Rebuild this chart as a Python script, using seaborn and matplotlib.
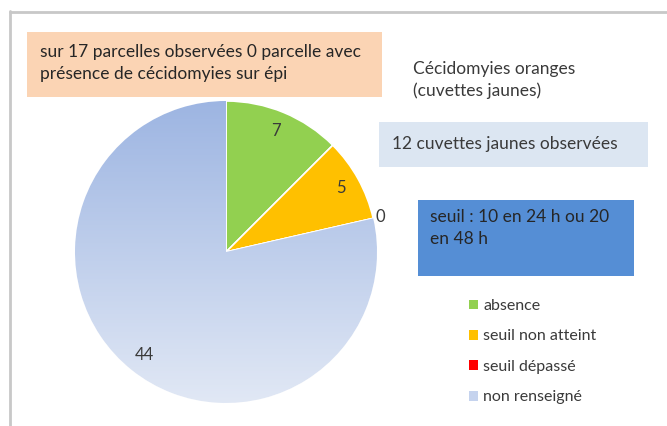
"""Pie chart: cécidomyies oranges (cuvettes jaunes)."""

import matplotlib

matplotlib.use("Agg")

import matplotlib.pyplot as plt
import numpy as np
import seaborn as sns
from matplotlib.colors import LinearSegmentedColormap
from matplotlib.lines import Line2D
from matplotlib.patches import Rectangle

# data
categories = ["absence", "seuil non atteint", "seuil dépassé", "non renseigné"]
counts = [7, 5, 0, 44]
slice_colors = ["#92d050", "#ffc000", "#ff0000", "#b4c7e7"]

title_lines = ["Cécidomyies oranges", "(cuvettes jaunes)"]
note_parcelles = "sur 17 parcelles observées 0 parcelle avec\nprésence de cécidomyies sur épi"
note_cuvettes = "12 cuvettes jaunes observées"
note_seuil = "seuil : 10 en 24 h ou 20\nen 48 h"

W, H = 667, 426
TEXT = "#3a3a3a"
FS = 12.5


def y(py):
    # pixel row (from top) -> data y
    return H - py


sns.set_theme(style="white")
plt.rcParams["font.family"] = ["Lato", "DejaVu Sans"]

fig = plt.figure(figsize=(W / 100, H / 100), dpi=100)
ax = fig.add_axes([0, 0, 1, 1])

cx, cy, r = 226, y(252), 151
wedges, _ = ax.pie(
    counts,
    colors=slice_colors,
    startangle=90,
    counterclock=False,
    center=(cx, cy),
    radius=r,
    frame=True,
    wedgeprops={"edgecolor": "white", "linewidth": 1.2},
)

# vertical gradient on the "non renseigné" slice
grad = LinearSegmentedColormap.from_list("blue_grad", ["#9db5e2", "#e1e8f5"])
img = ax.imshow(
    np.linspace(0, 1, 256).reshape(-1, 1),
    cmap=grad,
    extent=(cx - r, cx + r, cy - r, cy + r),
    origin="upper",
    aspect="auto",
    zorder=1.5,
)
img.set_clip_path(wedges[3])
wedges[3].set_zorder(1)

# value labels
for wedge, value in zip(wedges, counts):
    mid = np.deg2rad((wedge.theta1 + wedge.theta2) / 2)
    dist = r * (0.87 if value > 0 else 1.05)
    ax.text(
        cx + dist * np.cos(mid),
        cy + dist * np.sin(mid),
        str(value),
        ha="center",
        va="center",
        fontsize=12,
        color=TEXT,
        zorder=5,
    )

ax.set_xlim(0, W)
ax.set_ylim(0, H)
ax.set_aspect("equal")
ax.axis("off")

# text boxes
ax.add_patch(Rectangle((27, y(97)), 355, 65, facecolor="#fbd4b4", edgecolor="none", zorder=0.5))
ax.text(40, y(63), note_parcelles, fontsize=FS, color="#262626", va="center", linespacing=1.4)

ax.text(413, y(80), "\n".join(title_lines), fontsize=FS, color=TEXT, va="center", linespacing=1.4)

ax.add_patch(Rectangle((379, y(167)), 269, 45, facecolor="#dce6f2", edgecolor="none", zorder=0.5))
ax.text(392, y(144), note_cuvettes, fontsize=FS, color=TEXT, va="center")

ax.add_patch(Rectangle((418, y(276)), 216, 76, facecolor="#558ed5", edgecolor="none", zorder=0.5))
ax.text(430, y(228), note_seuil, fontsize=FS, color="#262626", va="center", linespacing=1.4)

# legend
handles = [
    Rectangle((0, 0), 1, 1, facecolor=c, edgecolor="none")
    for c in ["#92d050", "#ffc000", "#ff0000", "#c5d3ee"]
]
leg = ax.legend(
    handles,
    categories,
    loc="upper left",
    bbox_to_anchor=(469 / W, 1 - 299 / H),
    frameon=False,
    fontsize=11.5,
    handlelength=0.55,
    handleheight=0.55,
    handletextpad=0.35,
    labelspacing=1.03,
    borderpad=0,
    borderaxespad=0,
)
for t in leg.get_texts():
    t.set_color(TEXT)

# chart frame (left and top edges)
fig.add_artist(Line2D([9.5 / W, 9.5 / W], [0, 1 - 11 / H], color="#c8c8c8", lw=2))
fig.add_artist(Line2D([9.5 / W, 1], [1 - 11.5 / H, 1 - 11.5 / H], color="#c8c8c8", lw=2))

fig.savefig("out.png", dpi=100)
